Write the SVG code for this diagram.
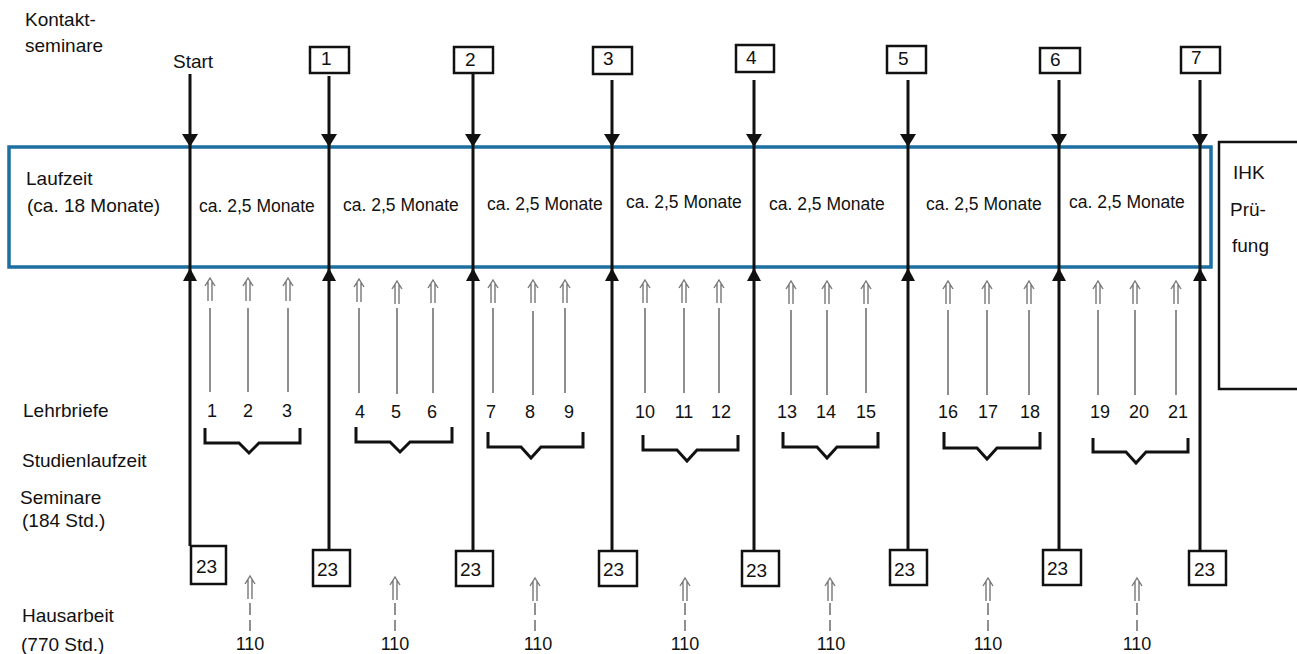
<svg xmlns="http://www.w3.org/2000/svg" xmlns:xlink="http://www.w3.org/1999/xlink" width="1297" height="654" viewBox="0 0 1297 654">
<style>
text{font-family:"Liberation Sans",Arial,sans-serif;fill:#111}
.lbl{font-size:19px}
.seg{font-size:17.5px}
.num{font-size:18px;text-anchor:middle}
.box{fill:#fff;stroke:#111;stroke-width:2.5}
.main{stroke:#111;stroke-width:3;fill:none}
.thin{stroke:#444;stroke-width:1.2;fill:none}
.dash{stroke:#555;stroke-width:1.3;stroke-dasharray:12 5;fill:none}
.brace{stroke:#111;stroke-width:3;fill:none;stroke-linejoin:miter}
.ah{fill:#111}
</style>
<defs>
<path id="dbl" d="M-5,8 L0,0 L5,8 M-2,3 V23 M2,3 V23" fill="none" stroke="#777" stroke-width="1.4"/>
<path id="down" d="M-8,-13 L8,-13 L0,0 Z"/>
<path id="up" d="M-7,13 L7,13 L0,0 Z"/>
</defs>
<rect width="1297" height="654" fill="#fff"/>

<g id="labels">
<text class="lbl" x="25" y="26">Kontakt-</text>
<text class="lbl" x="25" y="52">seminare</text>
<text class="lbl" x="23" y="417">Lehrbriefe</text>
<text class="lbl" x="22" y="467">Studienlaufzeit</text>
<text class="lbl" x="20" y="504">Seminare</text>
<text class="lbl" x="22" y="527">(184 Std.)</text>
<text class="lbl" x="22" y="622">Hausarbeit</text>
<text class="lbl" x="21" y="651">(770 Std.)</text>
</g>

<g id="laufzeit">
<rect x="9" y="147" width="1202" height="120" fill="none" stroke="#1c6fa0" stroke-width="3.5"/>
<text class="lbl" x="26" y="185">Laufzeit</text>
<text class="lbl" x="27" y="212">(ca. 18 Monate)</text>
<text class="seg" x="199" y="212">ca. 2,5 Monate</text>
<text class="seg" x="343" y="211">ca. 2,5 Monate</text>
<text class="seg" x="487" y="210">ca. 2,5 Monate</text>
<text class="seg" x="626" y="208">ca. 2,5 Monate</text>
<text class="seg" x="769" y="210">ca. 2,5 Monate</text>
<text class="seg" x="926" y="210">ca. 2,5 Monate</text>
<text class="seg" x="1069" y="208">ca. 2,5 Monate</text>
</g>

<g id="ihk">
<rect x="1219" y="142" width="82" height="247" class="box"/>
<text class="lbl" x="1233" y="179">IHK</text>
<text class="lbl" x="1230" y="216">Prü-</text>
<text class="lbl" x="1232" y="252">fung</text>
</g>

<g id="start-node"><text class="lbl" x="173" y="68">Start</text></g>
<g id="ks1"><rect class="box" x="310" y="47" width="39" height="26"/><text class="lbl" x="321" y="65">1</text></g>
<g id="ks2"><rect class="box" x="454" y="47" width="39" height="26"/><text class="lbl" x="465" y="66">2</text></g>
<g id="ks3"><rect class="box" x="593" y="47" width="39" height="27"/><text class="lbl" x="603" y="65">3</text></g>
<g id="ks4"><rect class="box" x="736" y="45" width="38" height="27"/><text class="lbl" x="746" y="64">4</text></g>
<g id="ks5"><rect class="box" x="887" y="46" width="39" height="27"/><text class="lbl" x="898" y="65">5</text></g>
<g id="ks6"><rect class="box" x="1040" y="48" width="40" height="25"/><text class="lbl" x="1050" y="66">6</text></g>
<g id="ks7"><rect class="box" x="1181" y="47" width="39" height="26"/><text class="lbl" x="1191" y="64">7</text></g>

<g id="sem0"><rect class="box" x="191" y="546" width="35" height="38"/><text class="lbl" x="196" y="573">23</text></g>
<g id="sem1"><rect class="box" x="313" y="550" width="37" height="36"/><text class="lbl" x="317" y="576">23</text></g>
<g id="sem2"><rect class="box" x="456" y="551" width="37" height="35"/><text class="lbl" x="460" y="576">23</text></g>
<g id="sem3"><rect class="box" x="599" y="551" width="38" height="35"/><text class="lbl" x="603" y="576">23</text></g>
<g id="sem4"><rect class="box" x="742" y="551" width="37" height="35"/><text class="lbl" x="746" y="577">23</text></g>
<g id="sem5"><rect class="box" x="890" y="550" width="37" height="35"/><text class="lbl" x="894" y="576">23</text></g>
<g id="sem6"><rect class="box" x="1043" y="550" width="38" height="35"/><text class="lbl" x="1047" y="575">23</text></g>
<g id="sem7"><rect class="box" x="1189" y="551" width="37" height="34"/><text class="lbl" x="1194" y="576">23</text></g>

<g id="lehrbriefe">
<text class="num" x="212" y="417">1</text><text class="num" x="248" y="417">2</text><text class="num" x="287" y="417">3</text>
<text class="num" x="360" y="418">4</text><text class="num" x="396" y="418">5</text><text class="num" x="432" y="418">6</text>
<text class="num" x="491" y="418">7</text><text class="num" x="530" y="418">8</text><text class="num" x="569" y="418">9</text>
<text class="num" x="645" y="418">10</text><text class="num" x="684" y="418">11</text><text class="num" x="721" y="418">12</text>
<text class="num" x="787" y="418">13</text><text class="num" x="826" y="418">14</text><text class="num" x="866" y="418">15</text>
<text class="num" x="948" y="418">16</text><text class="num" x="988" y="418">17</text><text class="num" x="1030" y="418">18</text>
<text class="num" x="1100" y="418">19</text><text class="num" x="1139" y="418">20</text><text class="num" x="1178" y="418">21</text>
</g>

<g id="braces">
<path class="brace" d="M205,428 V443 H239 L249,453 L259,443 H300 V428"/>
<path class="brace" d="M356,427 V442 H390 L400,452 L410,442 H452 V427"/>
<path class="brace" d="M488,432 V447 H521 L531,458 L541,447 H583 V432"/>
<path class="brace" d="M643,435 V450 H677 L687,461 L697,450 H738 V435"/>
<path class="brace" d="M783,432 V447 H817 L827,458 L837,447 H878 V432"/>
<path class="brace" d="M944,432 V448 H977 L987,459 L997,448 H1040 V432"/>
<path class="brace" d="M1093,438 V452 H1126 L1136,463 L1146,452 H1188 V438"/>
</g>

<g id="hausarbeit">
<text class="num" x="250" y="650">110</text>
<text class="num" x="395" y="650">110</text>
<text class="num" x="538" y="650">110</text>
<text class="num" x="685" y="650">110</text>
<text class="num" x="831" y="650">110</text>
<text class="num" x="988" y="650">110</text>
<text class="num" x="1137" y="650">110</text>
</g>

<g id="connectors">
<path class="main" d="M190,74 V546"/>
<path class="main" d="M329,76 V550"/>
<path class="main" d="M473,73 V551"/>
<path class="main" d="M612,80 V551"/>
<path class="main" d="M754,80 V551"/>
<path class="main" d="M908,80 V550"/>
<path class="main" d="M1059,80 V550"/>
<path class="main" d="M1200,80 V551"/>
<g class="ah">
<use href="#down" x="190" y="147"/><use href="#down" x="329" y="147"/><use href="#down" x="473" y="147"/><use href="#down" x="612" y="147"/>
<use href="#down" x="754" y="147"/><use href="#down" x="908" y="147"/><use href="#down" x="1059" y="147"/><use href="#down" x="1200" y="147"/>
<use href="#up" x="190" y="268"/><use href="#up" x="329" y="268"/><use href="#up" x="473" y="268"/><use href="#up" x="612" y="268"/>
<use href="#up" x="754" y="268"/><use href="#up" x="908" y="268"/><use href="#up" x="1059" y="268"/><use href="#up" x="1200" y="268"/>
</g>
<g id="lb-arrows">
<use href="#dbl" x="210" y="278"/><use href="#dbl" x="248" y="278"/><use href="#dbl" x="288" y="278"/>
<use href="#dbl" x="359" y="279"/><use href="#dbl" x="397" y="281"/><use href="#dbl" x="433" y="280"/>
<use href="#dbl" x="493" y="280"/><use href="#dbl" x="533" y="280"/><use href="#dbl" x="565" y="280"/>
<use href="#dbl" x="645" y="280"/><use href="#dbl" x="684" y="280"/><use href="#dbl" x="719" y="280"/>
<use href="#dbl" x="791" y="281"/><use href="#dbl" x="827" y="281"/><use href="#dbl" x="866" y="281"/>
<use href="#dbl" x="948" y="281"/><use href="#dbl" x="987" y="281"/><use href="#dbl" x="1029" y="281"/>
<use href="#dbl" x="1098" y="281"/><use href="#dbl" x="1135" y="281"/><use href="#dbl" x="1176" y="281"/>
</g>
<path class="thin" d="M210,308 V392 M248,308 V392 M288,308 V392 M359,308 V393 M397,308 V394 M433,308 V393 M493,308 V393 M533,311 V395 M565,308 V393 M645,308 V393 M684,308 V393 M719,308 V393 M791,310 V395 M827,310 V395 M866,308 V393 M948,310 V395 M987,310 V395 M1029,310 V395 M1098,310 V395 M1135,310 V395 M1176,310 V395"/>
<g id="ha-arrows">
<use href="#dbl" x="250" y="576"/><use href="#dbl" x="395" y="577"/><use href="#dbl" x="535" y="578"/><use href="#dbl" x="685" y="578"/>
<use href="#dbl" x="830" y="578"/><use href="#dbl" x="988" y="578"/><use href="#dbl" x="1137" y="578"/>
</g>
<path class="dash" d="M250,603 V631 M395,603 V631 M535,603 V631 M685,603 V631 M830,603 V631 M988,603 V631 M1137,603 V631"/>
</g>
</svg>
